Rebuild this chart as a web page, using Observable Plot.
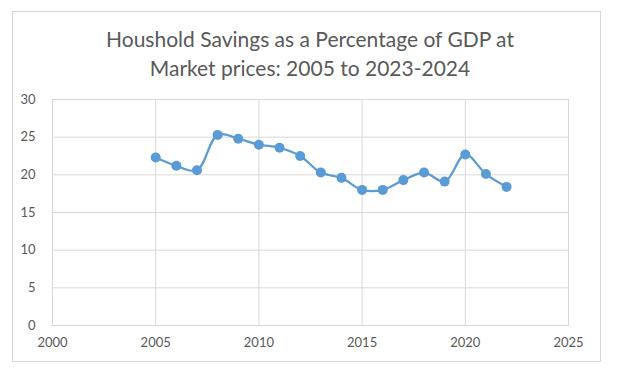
<!DOCTYPE html>
<html>
<head>
<meta charset="utf-8">
<script src="https://cdn.jsdelivr.net/npm/d3@7"></script>
<script src="https://cdn.jsdelivr.net/npm/@observablehq/plot@0.6"></script>
<style>
  html, body { margin: 0; padding: 0; background: #fff; }
  #wrap { position: relative; width: 620px; height: 378px; overflow: hidden; font-family: Lato, "Open Sans", sans-serif; }
  #border { position: absolute; left: 12px; top: 11px; width: 589px; height: 351px; border: 1px solid #d9d9d9; box-sizing: border-box; }
  #title { position: absolute; left: 0; top: 24px; width: 620px; text-align: center; font-size: 21px; line-height: 29px; color: #595959; }
  #chart { position: absolute; left: 0; top: 80px; }
</style>
</head>
<body>
<div id="wrap">
  <div id="border"></div>
  <div id="title">Houshold Savings as a Percentage of GDP at<br>Market prices: 2005 to 2023-2024</div>
  <div id="chart"></div>
</div>
<script>
const years = [2005, 2006, 2007, 2008, 2009, 2010, 2011, 2012, 2013, 2014, 2015, 2016, 2017, 2018, 2019, 2020, 2021, 2022];
const savings = [22.3, 21.2, 20.6, 25.3, 24.8, 24.0, 23.6, 22.5, 20.3, 19.6, 18.0, 18.0, 19.3, 20.3, 19.1, 22.7, 20.1, 18.4];
const xTicks = [2000, 2005, 2010, 2015, 2020, 2025];
const yTicks = [0, 5, 10, 15, 20, 25, 30];

const data = years.map((y, i) => ({year: y, value: savings[i]}));

const chart = Plot.plot({
  width: 620,
  height: 270,
  marginLeft: 52,
  marginRight: 52,
  marginTop: 19,
  marginBottom: 25,
  style: { fontFamily: "Lato, 'Open Sans', sans-serif", fontSize: "13px", color: "#595959", background: "transparent" },
  x: { domain: [2000, 2025], ticks: xTicks, tickFormat: d => String(d), label: null },
  y: { domain: [0, 30], ticks: yTicks, label: null },
  marks: [
    Plot.gridX(xTicks, { stroke: "#d9d9d9", strokeOpacity: 1, strokeWidth: 1 }),
    Plot.gridY(yTicks, { stroke: "#d9d9d9", strokeOpacity: 1, strokeWidth: 1 }),
    Plot.frame({ stroke: "#d9d9d9" }),
    Plot.axisX(xTicks, { tickSize: 0, tickPadding: 12, fontSize: 13, tickFormat: d => String(d) }),
    Plot.axisY(yTicks, { tickSize: 0, tickPadding: 17, fontSize: 13 }),
    Plot.line(data, { x: "year", y: "value", stroke: "#5B9BD5", strokeWidth: 2.25, curve: "catmull-rom" }),
    Plot.dot(data, { x: "year", y: "value", fill: "#5B9BD5", r: 5 })
  ]
});
document.getElementById("chart").appendChild(chart);
</script>
</body>
</html>
